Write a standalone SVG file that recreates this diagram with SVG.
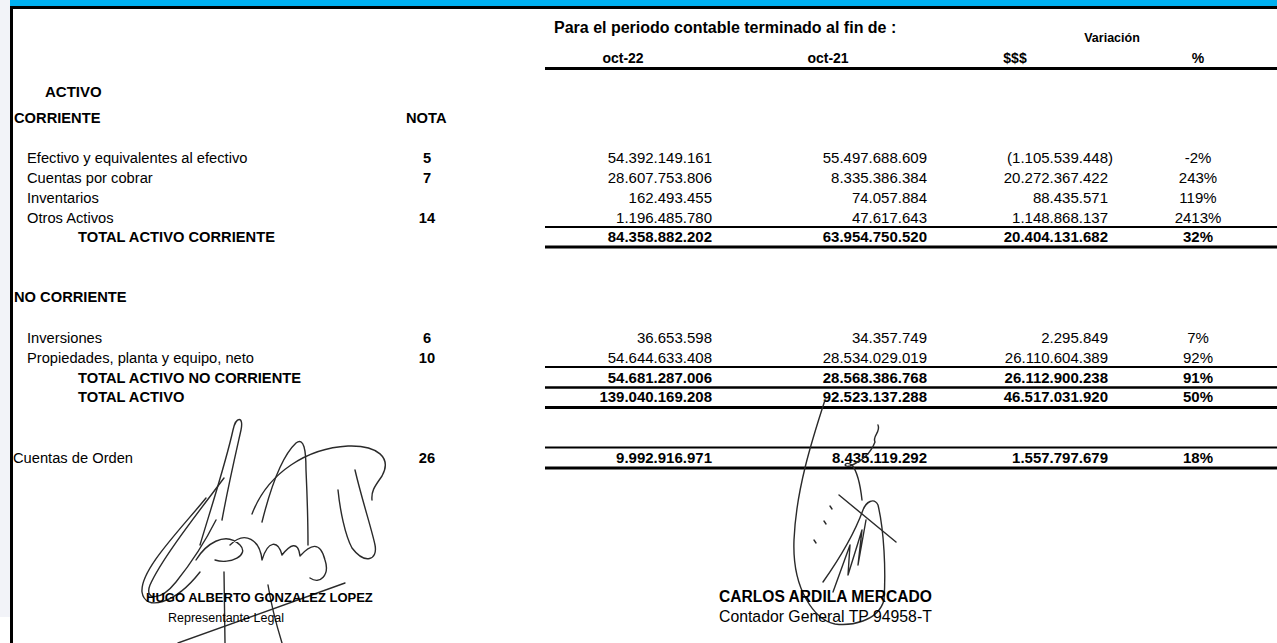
<svg xmlns="http://www.w3.org/2000/svg" width="1277" height="643" viewBox="0 0 1277 643">
<style>
text{font-family:"Liberation Sans",Arial,sans-serif;fill:#000}
.b{font-weight:bold}
.l{font-size:14.7px}
.v{font-size:15px}
.e{text-anchor:end}
.m{text-anchor:middle}
.rule{stroke:#000;fill:none}
.sig{stroke:#2a2a2a;stroke-width:1.4;fill:none;stroke-linecap:round;stroke-linejoin:round}
</style>
<rect width="1277" height="643" fill="#fff"/>
<rect x="0" y="0" width="10" height="617" fill="#f2f3f8"/>
<g id="frame">
<rect x="10" y="0" width="1267" height="6.5" fill="#00b0f0"/>
<rect x="10" y="6" width="1267" height="3" fill="#000"/>
<rect x="10" y="6" width="3" height="637" fill="#000"/>
</g>
<g id="header">
<text class="b" x="554" y="33" font-size="16">Para el periodo contable terminado al fin de :</text>
<text class="b m" x="1112" y="42" font-size="12.5">Variación</text>
<text class="b m" x="623" y="63" font-size="14">oct-22</text>
<text class="b m" x="828" y="63" font-size="14">oct-21</text>
<text class="b m" x="1015" y="63" font-size="14">$$$</text>
<text class="b m" x="1198" y="63" font-size="14">%</text>
</g>
<g id="rules">
<line class="rule" x1="545" y1="68.5" x2="1277" y2="68.5" stroke-width="3"/>
<line class="rule" x1="545" y1="227" x2="1277" y2="227" stroke-width="2"/>
<line class="rule" x1="545" y1="247" x2="1277" y2="247" stroke-width="3"/>
<line class="rule" x1="545" y1="367" x2="1277" y2="367" stroke-width="2"/>
<line class="rule" x1="545" y1="387.5" x2="1277" y2="387.5" stroke-width="2.5"/>
<line class="rule" x1="545" y1="407.5" x2="1277" y2="407.5" stroke-width="3"/>
<line class="rule" x1="545" y1="447.5" x2="1277" y2="447.5" stroke-width="2"/>
<line class="rule" x1="545" y1="468" x2="1277" y2="468" stroke-width="3"/>
</g>
<g id="titles">
<text class="b" x="45" y="97" font-size="15">ACTIVO</text>
<text class="b l" x="14" y="123">CORRIENTE</text>
<text class="b l" x="406" y="123">NOTA</text>
<text class="b l" x="14" y="302">NO CORRIENTE</text>
</g>
<g id="row-efectivo">
<text class="l" x="27" y="163">Efectivo y equivalentes al efectivo</text>
<text class="b l m" x="427" y="163">5</text>
<text class="v e" x="712" y="163">54.392.149.161</text>
<text class="v e" x="927" y="163">55.497.688.609</text>
<text class="v e" x="1113" y="163">(1.105.539.448)</text>
<text class="v m" x="1198" y="163">-2%</text>
</g>
<g id="row-cuentas-cobrar">
<text class="l" x="27" y="183">Cuentas por cobrar</text>
<text class="b l m" x="427" y="183">7</text>
<text class="v e" x="712" y="183">28.607.753.806</text>
<text class="v e" x="927" y="183">8.335.386.384</text>
<text class="v e" x="1108" y="183">20.272.367.422</text>
<text class="v m" x="1198" y="183">243%</text>
</g>
<g id="row-inventarios">
<text class="l" x="27" y="203">Inventarios</text>
<text class="v e" x="712" y="203">162.493.455</text>
<text class="v e" x="927" y="203">74.057.884</text>
<text class="v e" x="1108" y="203">88.435.571</text>
<text class="v m" x="1198" y="203">119%</text>
</g>
<g id="row-otros">
<text class="l" x="27" y="223">Otros Activos</text>
<text class="b l m" x="427" y="223">14</text>
<text class="v e" x="712" y="223">1.196.485.780</text>
<text class="v e" x="927" y="223">47.617.643</text>
<text class="v e" x="1108" y="223">1.148.868.137</text>
<text class="v m" x="1198" y="223">2413%</text>
</g>
<g id="row-total-corriente">
<text class="b l" x="78" y="242">TOTAL ACTIVO CORRIENTE</text>
<text class="b v e" x="712" y="242">84.358.882.202</text>
<text class="b v e" x="927" y="242">63.954.750.520</text>
<text class="b v e" x="1108" y="242">20.404.131.682</text>
<text class="b v m" x="1198" y="242">32%</text>
</g>
<g id="row-inversiones">
<text class="l" x="27" y="343">Inversiones</text>
<text class="b l m" x="427" y="343">6</text>
<text class="v e" x="712" y="343">36.653.598</text>
<text class="v e" x="927" y="343">34.357.749</text>
<text class="v e" x="1108" y="343">2.295.849</text>
<text class="v m" x="1198" y="343">7%</text>
</g>
<g id="row-propiedades">
<text class="l" x="27" y="363">Propiedades, planta y equipo, neto</text>
<text class="b l m" x="427" y="363">10</text>
<text class="v e" x="712" y="363">54.644.633.408</text>
<text class="v e" x="927" y="363">28.534.029.019</text>
<text class="v e" x="1108" y="363">26.110.604.389</text>
<text class="v m" x="1198" y="363">92%</text>
</g>
<g id="row-total-no-corriente">
<text class="b l" x="78" y="383">TOTAL ACTIVO NO CORRIENTE</text>
<text class="b v e" x="712" y="383">54.681.287.006</text>
<text class="b v e" x="927" y="383">28.568.386.768</text>
<text class="b v e" x="1108" y="383">26.112.900.238</text>
<text class="b v m" x="1198" y="383">91%</text>
</g>
<g id="row-total-activo">
<text class="b l" x="78" y="402">TOTAL ACTIVO</text>
<text class="b v e" x="712" y="402">139.040.169.208</text>
<text class="b v e" x="927" y="402">92.523.137.288</text>
<text class="b v e" x="1108" y="402">46.517.031.920</text>
<text class="b v m" x="1198" y="402">50%</text>
</g>
<g id="row-cuentas-orden">
<text class="l" x="13" y="463">Cuentas de Orden</text>
<text class="b l m" x="427" y="463">26</text>
<text class="b v e" x="712" y="463">9.992.916.971</text>
<text class="b v e" x="927" y="463">8.435.119.292</text>
<text class="b v e" x="1108" y="463">1.557.797.679</text>
<text class="b v m" x="1198" y="463">18%</text>
</g>
<g id="signature-left">
<path class="sig" d="M200 545 C212 505 226 462 233 430 C236 416 244 416 241 430 C237 448 229 482 222 520"/>
<path class="sig" d="M224 478 C200 510 162 558 150 585 C144 600 160 602 176 582 C192 562 206 540 216 520"/>
<path class="sig" d="M206 498 C180 530 140 570 142 592 C145 612 175 604 200 572"/>
<path class="sig" d="M262 522 C270 490 282 456 296 443 C304 437 306 450 306 470 C307 492 308 515 308 545"/>
<path class="sig" d="M252 514 C268 472 308 448 348 446 C378 445 392 458 382 476 C376 485 371 490 372 500"/>
<path class="sig" d="M196 560 C205 545 225 530 240 545 C250 555 230 565 215 560 M230 545 C245 530 260 540 262 560 C268 540 278 540 282 555 C290 545 298 540 300 556 C310 545 320 540 325 560 C330 575 320 585 310 578"/>
<path class="sig" d="M355 470 C362 500 372 530 375 545 C378 560 365 565 352 548 C345 535 340 510 338 490"/>
<path class="sig" d="M178 643 L345 583"/>
<path class="sig" d="M224 572 L225 643 M268 585 C272 610 278 630 282 643"/>
</g>
<g id="signature-right">
<path class="sig" d="M825 400 C812 440 796 490 794 540 C792 590 815 620 835 624 C850 626 878 622 884 600 C886 570 884 530 878 505 C874 497 866 502 863 510 C852 540 835 565 823 582"/>
<path class="sig" d="M839 495 L896 542"/>
<path class="sig" d="M833 592 L850 545 L848 575 L862 530 L858 565 L866 520"/>
<path class="sig" d="M878 425 C881 432 872 436 875 442 C870 455 860 462 850 466 C842 468 845 460 852 465 C856 470 860 482 862 500"/>
<path class="sig" d="M830 506 l2 3 M824 521 l2 3 M814 540 l2 3" stroke-width="2.2"/>
</g>
<g id="signatory-left">
<text class="b" x="146" y="602" font-size="13">HUGO ALBERTO GONZALEZ LOPEZ</text>
<text x="168" y="622" font-size="12.5">Representante Legal</text>
</g>
<g id="signatory-right">
<text class="b" x="719" y="602" font-size="15.6">CARLOS ARDILA MERCADO</text>
<text x="719" y="622" font-size="15.8">Contador General TP 94958-T</text>
</g>
</svg>
